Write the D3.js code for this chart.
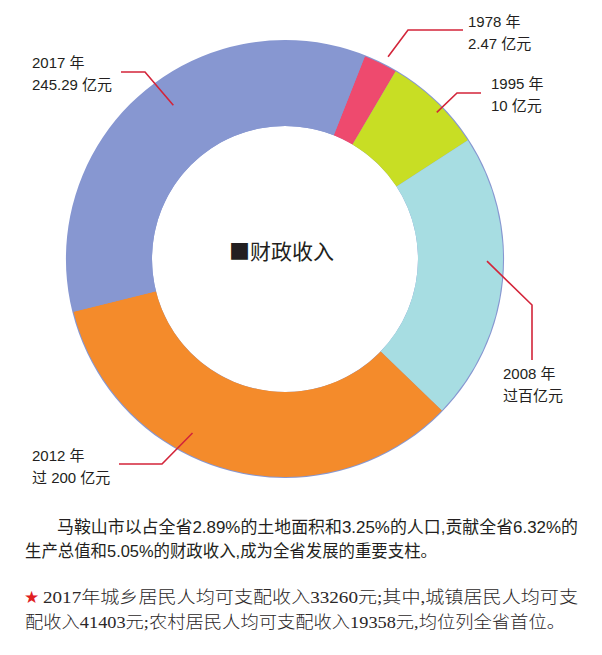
<!DOCTYPE html>
<html><head><meta charset="utf-8">
<script src="https://cdn.jsdelivr.net/npm/d3@7"></script>
<style>
html,body{margin:0;padding:0;background:#fff;}
svg{display:block;}
</style></head>
<body>
<svg id="chart" width="602" height="655"></svg>
<script>
// ---- data ----
const years = ["1978", "1995", "2008", "2012", "2017"];
const amounts = ["2.47 亿元", "10 亿元", "过百亿元", "过 200 亿元", "245.29 亿元"];
// share of the ring as drawn (degrees)
const shares = [9, 26.5, 77, 122, 125.5];
const colors = ["#ee4a6e", "#c8de24", "#a7dde2", "#f48b2b", "#8797d1"];
const centerTitle = "■财政收入";
const para1 = ["马鞍山市以占全省2.89%的土地面积和3.25%的人口,贡献全省6.32%的",
               "生产总值和5.05%的财政收入,成为全省发展的重要支柱。"];
const para2 = ["2017年城乡居民人均可支配收入33260元;其中,城镇居民人均可支",
               "配收入41403元;农村居民人均可支配收入19358元,均位列全省首位。"];

// ---- layout ----
const cx = 285, cy = 259, R = 218, r = 133;
const startDeg = 21.5;
const labelLayout = [
  {ang: 27,  r0: 227, elbow: [408, 30],  end: [463, 30],  tx: 468, ty: 21},
  {ang: 46,  r0: 211, elbow: [457, 93],  end: [481, 93],  tx: 491, ty: 83},
  {ang: 90.6,r0: 202, elbow: [532, 305], end: [532, 360], tx: 503, ty: 373},
  {ang: 208, r0: 197, elbow: [162, 464], end: [119, 464], tx: 32,  ty: 455},
  {ang: 324, r0: 190, elbow: [145, 72],  end: [121, 72],  tx: 32,  ty: 62}
];

const svg = d3.select("#chart");
const g = svg.append("g").attr("transform", `translate(${cx},${cy})`);
const rad = d => d * Math.PI / 180;

const pie = d3.pie().sort(null).value(d => d)
  .startAngle(rad(startDeg)).endAngle(rad(startDeg) + 2 * Math.PI);
const arcs = pie(shares);

// thin blue backing ring
g.append("path")
  .attr("d", d3.arc().innerRadius(r)({startAngle: 0, endAngle: 2 * Math.PI, outerRadius: R + 1}))
  .attr("fill", colors[4]);

const arcGen = d3.arc().innerRadius(r).outerRadius(R);
g.selectAll("path.slice").data(arcs).enter().append("path")
  .attr("class", "slice")
  .attr("d", arcGen)
  .attr("fill", (d, i) => colors[i]);

// leader lines + labels
const font = "'Liberation Sans', Arial, 'Noto Sans CJK SC', sans-serif";
labelLayout.forEach((L, i) => {
  const a = rad(L.ang);
  const sx = cx + L.r0 * Math.sin(a), sy = cy - L.r0 * Math.cos(a);
  svg.append("polyline")
    .attr("points", [[sx, sy], L.elbow, L.end].map(p => p.join(",")).join(" "))
    .attr("fill", "none").attr("stroke", "#d3253a").attr("stroke-width", 1.6);
  const t = svg.append("text")
    .attr("font-family", font).attr("font-size", 15).attr("fill", "#231f20")
    .attr("dominant-baseline", "central");
  t.append("tspan").attr("x", L.tx).attr("y", L.ty).text(years[i] + " 年");
  t.append("tspan").attr("x", L.tx).attr("y", L.ty + 22).text(amounts[i]);
});

// center title
svg.append("text").attr("x", 229).attr("y", 250)
  .attr("font-family", "'Noto Sans CJK SC', sans-serif").attr("font-size", 21)
  .attr("fill", "#231f20").attr("dominant-baseline", "central")
  .text(centerTitle);

// paragraph 1 (sans)
const p1 = svg.append("text").attr("font-family", "'Liberation Sans', 'Noto Sans CJK SC', sans-serif")
  .attr("font-size", 16.5).attr("fill", "#231f20").attr("dominant-baseline", "central");
p1.append("tspan").attr("x", 57).attr("y", 527).attr("textLength", 521).attr("lengthAdjust", "spacingAndGlyphs").text(para1[0]);
p1.append("tspan").attr("x", 25).attr("y", 551).attr("textLength", 412).attr("lengthAdjust", "spacingAndGlyphs").text(para1[1]);

// paragraph 2 (serif digits)
svg.append("text").attr("x", 24).attr("y", 597).attr("font-size", 17)
  .attr("font-family", "'DejaVu Sans', sans-serif")
  .attr("fill", "#e0201f").attr("dominant-baseline", "central").text("★");
const p2 = svg.append("text").attr("font-family", "'Liberation Serif', 'Noto Sans CJK SC', serif")
  .attr("font-size", 17).attr("font-weight", 300).attr("fill", "#2b2728").attr("dominant-baseline", "central");
p2.append("tspan").attr("x", 43).attr("y", 597).attr("textLength", 535).attr("lengthAdjust", "spacingAndGlyphs").text(para2[0]);
p2.append("tspan").attr("x", 25).attr("y", 622).attr("textLength", 540).attr("lengthAdjust", "spacingAndGlyphs").text(para2[1]);
</script>
</body></html>
